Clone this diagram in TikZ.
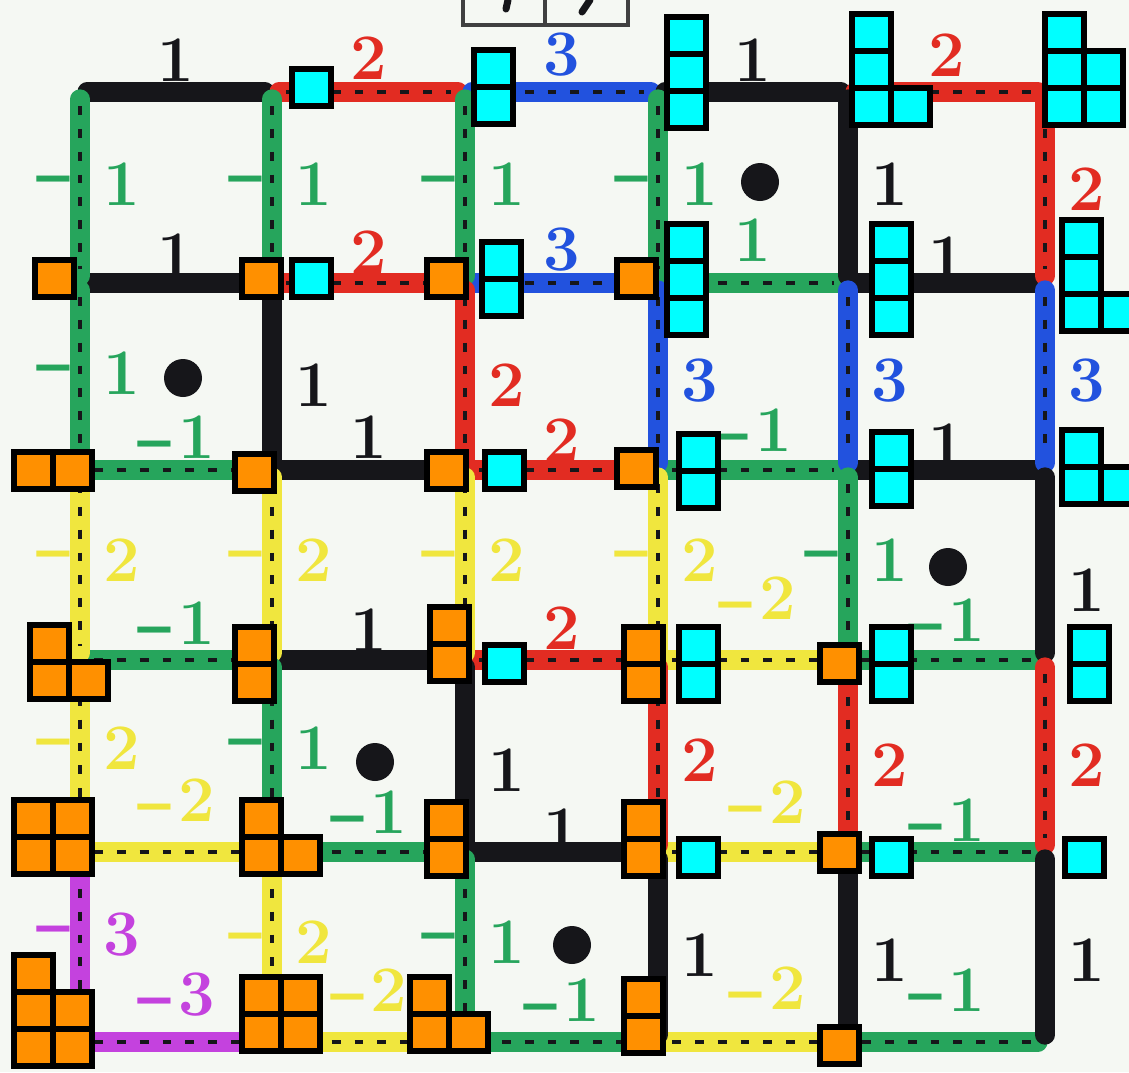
\documentclass[tikz,border=0pt]{standalone}
\usepackage{tikz}
\usepackage{graphicx}
\usetikzlibrary{calc}
\usepackage{xcolor}

\definecolor{mkblack}{RGB}{22,22,26}
\definecolor{mkgreen}{RGB}{38,165,92}
\definecolor{mkred}{RGB}{226,44,34}
\definecolor{mkblue}{RGB}{34,82,222}
\definecolor{mkyellow}{RGB}{240,230,62}
\definecolor{mkpurple}{RGB}{196,66,222}
\definecolor{boxorange}{RGB}{255,144,0}
\definecolor{boxcyan}{RGB}{0,255,255}
\definecolor{paper}{RGB}{245,248,243}

% wide hand-drawn minus
\newcommand{\mn}{\scalebox{1.7}[1]{-}}

% one Young diagram: colour, top-left corner (px), cells as col/row
\newcommand{\youngd}[4]{%
  \foreach \i/\j in {#4}
    \draw[cell, fill=#1] ({#2+2+\i*39},{#3+2+\j*37}) rectangle ++(39,37);
}

\begin{document}
\begin{tikzpicture}[x=0.02cm, y=-0.02cm,
	stick/.style={draw=#1, line width=11pt, line cap=round,
		shorten <=4pt, shorten >=4pt,
		postaction={draw=mkblack, line width=1.8pt, line cap=butt,
			dash pattern=on 5pt off 8pt, shorten <=8pt, shorten >=8pt}},
	lbl/.style={text=#1, inner sep=0pt,
		font=\bfseries\fontsize{37}{37}\selectfont},
	cell/.style={draw=black, line width=3.2pt},
	blob/.style={fill=mkblack}]
	
	\useasboundingbox (0,0) rectangle (1129,1072);
	\fill[paper] (0,0) rectangle (1129,1072);
	\clip (0,0) rectangle (1129,1072);
	
	% grid points
	\foreach \x [count=\gx from 0] in {80,272,465,658,848,1045}
	\foreach \y [count=\gy from 0] in {92,283,470,660,852,1042}
	\coordinate (v\gx\gy) at (\x,\y);
	
	% horizontal sticks: col/row/colour/label/shift of label
	\foreach \gx/\gy/\col/\txt/\dx/\dy in {
		0/0/mkblack/1/0/-32, 1/0/mkred/2/0/-34, 2/0/mkblue/3/0/-37, 3/0/mkblack/1/0/-32, 4/0/mkred/2/0/-37,
		0/1/mkblack/1/0/-28, 1/1/mkred/2/0/-31, 2/1/mkblue/3/0/-33, 3/1/mkgreen/1/0/-43, 4/1/mkblack/1/0/-25,
		0/2/mkgreen/\mn1/0/-33, 1/2/mkblack/1/0/-33, 2/2/mkred/2/0/-30, 3/2/mkgreen/\mn1/0/-40, 4/2/mkblack/1/0/-25,
		0/3/mkgreen/\mn1/0/-37, 1/3/mkblack/1/0/-30, 2/3/mkred/2/0/-32, 3/3/mkyellow/\mn2/4/-62, 4/3/mkgreen/\mn1/0/-40,
		0/4/mkyellow/\mn2/0/-52, 1/4/mkgreen/\mn1/0/-40, 2/4/mkblack/1/0/-22, 3/4/mkyellow/\mn2/14/-50, 4/4/mkgreen/\mn1/0/-32,
		0/5/mkpurple/\mn3/0/-47, 1/5/mkyellow/\mn2/0/-52, 2/5/mkgreen/\mn1/0/-42, 3/5/mkyellow/\mn2/14/-54, 4/5/mkgreen/\mn1/0/-52}{
		\pgfmathtruncatemacro{\nx}{\gx+1}
		\draw[stick=\col] (v\gx\gy) -- (v\nx\gy);
		\node[lbl=\col] (h\gx\gy) at ($(v\gx\gy)!.5!(v\nx\gy)+(\dx,\dy)$) {\txt};
	}
	
	% vertical sticks: col/row/colour/digit/minus/shift of label
	\foreach \gx/\gy/\col/\txt/\neg/\dy in {
		0/0/mkgreen/1/1/-3, 0/1/mkgreen/1/1/-3, 0/2/mkyellow/2/1/-5, 0/3/mkyellow/2/1/-8, 0/4/mkpurple/3/1/-12,
		1/0/mkgreen/1/1/-3, 1/1/mkblack/1/0/9, 1/2/mkyellow/2/1/-5, 1/3/mkgreen/1/1/-8, 1/4/mkyellow/2/1/-5,
		2/0/mkgreen/1/1/-3, 2/1/mkred/2/0/9, 2/2/mkyellow/2/1/-5, 2/3/mkblack/1/0/14, 2/4/mkgreen/1/1/-5,
		3/0/mkgreen/1/1/-3, 3/1/mkblue/3/0/4, 3/2/mkyellow/2/1/-5, 3/3/mkred/2/0/4, 3/4/mkblack/1/0/8,
		4/0/mkblack/1/0/-3, 4/1/mkblue/3/0/4, 4/2/mkgreen/1/1/-5, 4/3/mkred/2/0/9, 4/4/mkblack/1/0/13,
		5/0/mkred/2/0/2, 5/1/mkblue/3/0/4, 5/2/mkblack/1/0/25, 5/3/mkred/2/0/9, 5/4/mkblack/1/0/13}{
		\pgfmathtruncatemacro{\ny}{\gy+1}
		\draw[stick=\col] (v\gx\gy) -- (v\gx\ny);
		\node[lbl=\col] (d\gx\gy) at ($(v\gx\gy)!.5!(v\gx\ny)+(42,\dy)$) {\txt};
		\ifnum\neg=1
		\node[lbl=\col] (m\gx\gy) at ($(v\gx\gy)!.5!(v\gx\ny)+(-24,\dy)$) {\mn};
		\fi
	}
	
	% black dots
	\foreach \x/\y in {183/378, 760/182, 948/567, 375/762, 572/945}
	\fill[blob] (\x,\y) circle (19);
	
	% orange diagrams
	\youngd{boxorange}{33}{258}{0/0}
	\youngd{boxorange}{240}{258}{0/0}
	\youngd{boxorange}{425}{258}{0/0}
	\youngd{boxorange}{615}{258}{0/0}
	\youngd{boxorange}{12}{450}{0/0,1/0}
	\youngd{boxorange}{233}{452}{0/0}
	\youngd{boxorange}{425}{450}{0/0}
	\youngd{boxorange}{615}{448}{0/0}
	\youngd{boxorange}{28}{623}{0/0,0/1,1/1}
	\youngd{boxorange}{233}{625}{0/0,0/1}
	\youngd{boxorange}{428}{605}{0/0,0/1}
	\youngd{boxorange}{622}{625}{0/0,0/1}
	\youngd{boxorange}{818}{643}{0/0}
	\youngd{boxorange}{12}{798}{0/0,1/0,0/1,1/1}
	\youngd{boxorange}{240}{798}{0/0,0/1,1/1}
	\youngd{boxorange}{425}{800}{0/0,0/1}
	\youngd{boxorange}{622}{800}{0/0,0/1}
	\youngd{boxorange}{818}{832}{0/0}
	\youngd{boxorange}{12}{953}{0/0,0/1,1/1,0/2,1/2}
	\youngd{boxorange}{240}{975}{0/0,1/0,0/1,1/1}
	\youngd{boxorange}{408}{975}{0/0,0/1,1/1}
	\youngd{boxorange}{622}{977}{0/0,0/1}
	\youngd{boxorange}{818}{1025}{0/0}
	
	% cyan diagrams
	\youngd{boxcyan}{290}{67}{0/0}
	\youngd{boxcyan}{472}{48}{0/0,0/1}
	\youngd{boxcyan}{665}{15}{0/0,0/1,0/2}
	\youngd{boxcyan}{850}{12}{0/0,0/1,0/2,1/2}
	\youngd{boxcyan}{1043}{12}{0/0,0/1,1/1,0/2,1/2}
	\youngd{boxcyan}{290}{258}{0/0}
	\youngd{boxcyan}{480}{240}{0/0,0/1}
	\youngd{boxcyan}{665}{222}{0/0,0/1,0/2}
	\youngd{boxcyan}{870}{222}{0/0,0/1,0/2}
	\youngd{boxcyan}{1060}{218}{0/0,0/1,0/2,1/2}
	\youngd{boxcyan}{483}{450}{0/0}
	\youngd{boxcyan}{677}{432}{0/0,0/1}
	\youngd{boxcyan}{870}{430}{0/0,0/1}
	\youngd{boxcyan}{1060}{428}{0/0,0/1,1/1}
	\youngd{boxcyan}{483}{643}{0/0}
	\youngd{boxcyan}{677}{625}{0/0,0/1}
	\youngd{boxcyan}{870}{625}{0/0,0/1}
	\youngd{boxcyan}{1068}{625}{0/0,0/1}
	\youngd{boxcyan}{677}{837}{0/0}
	\youngd{boxcyan}{870}{837}{0/0}
	\youngd{boxcyan}{1063}{837}{0/0}
	
	% piece of a frame cut by the top edge
	\draw[line width=1.8pt, black!75] (463,0) -- (463,25) -- (628,25) -- (628,0)
	(545,0) -- (545,25);
	\draw[line width=4pt, line cap=round, mkblack] (508,0) -- (506,9) (590,0) -- (582,12);
\end{tikzpicture}
\end{document}
